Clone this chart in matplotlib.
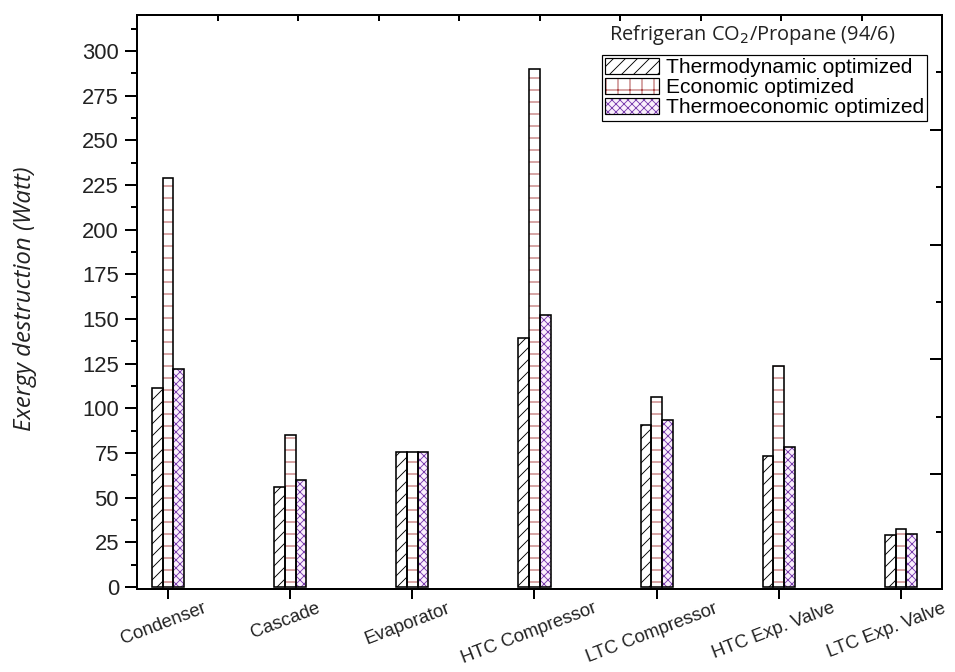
import numpy as np
import matplotlib
matplotlib.use("Agg")
from matplotlib import pyplot as plt
from matplotlib.patches import Patch
from matplotlib.ticker import MultipleLocator, FixedLocator
from matplotlib.transforms import ScaledTranslation, blended_transform_factory

# exergy destruction per component (Watt)
components = ["Condenser", "Cascade", "Evaporator", "HTC Compressor",
              "LTC Compressor", "HTC Exp. Valve", "LTC Exp. Valve"]
thermodynamic = [111.2, 55.8, 75.5, 139.2, 90.6, 73.3, 29.1]
economic = [228.7, 85.1, 75.5, 289.7, 106.5, 123.7, 32.6]
thermoeconomic = [121.8, 59.9, 75.7, 152.2, 93.3, 78.5, 29.5]

seriesNames = ["Thermodynamic optimized", "Economic optimized", "Thermoeconomic optimized"]
yTicks = list(range(0, 301, 25))

plt.rcParams["hatch.linewidth"] = 0.9
tickFont = "Liberation Sans"

# drawn at 72 dpi so hatch spacing comes out ~12 px
fig = plt.figure(figsize=(955 / 72, 672 / 72), dpi=72)
ax = fig.add_axes([137 / 955, 1 - 589 / 672, 805 / 955, 574 / 672])

x = np.arange(len(components))
w = 0.0876
styles = [
    # face, hatch colour, hatch
    ("white", "black", "//"),
    ("white", "#a83a3a", "-"),
    ("#fbf0fc", "#7b3fae", "xxx"),
]
for k, (vals, (face, hcol, hatch)) in enumerate(zip([thermodynamic, economic, thermoeconomic], styles)):
    xs = x + (k - 1) * w
    ax.bar(xs, vals, w, color=face, edgecolor=hcol, hatch=hatch, linewidth=0, zorder=2)
    ax.bar(xs, vals, w, fill=False, edgecolor="black", linewidth=1.6, zorder=3)

ax.set_xlim(-0.254, 6.336)
ax.set_ylim(-1.1, 320.1)

ax.set_yticks(yTicks)
ax.yaxis.set_minor_locator(FixedLocator([v + 12.5 for v in yTicks]))
ax.set_xticks(x)
ax.set_xticklabels([])
for lab in ax.get_yticklabels():
    lab.set_fontfamily(tickFont)
    lab.set_fontsize(22)
    lab.set_color("#222222")

# category names under the ticks, nudged left; the last one sits against the edge
xlabTrans = blended_transform_factory(ax.transData, ax.transAxes)
for i, name in enumerate(components):
    dx = -14 if i == len(components) - 1 else -5
    ax.text(x[i], 0, name, rotation=21, ha="center", va="top", fontsize=18.5,
            fontfamily=tickFont, color="#222222",
            transform=xlabTrans + ScaledTranslation(dx / 72, -11 / 72, fig.dpi_scale_trans))

ax.tick_params(axis="y", which="major", direction="out", length=12, width=2, pad=6)
ax.tick_params(axis="y", which="minor", direction="out", length=6, width=2)
ax.tick_params(axis="x", which="major", direction="out", length=10, width=2, pad=1)
for s in ax.spines.values():
    s.set_linewidth(2)

ax.set_ylabel("Exergy destruction (Watt)", fontsize=24, fontfamily="Open Sans",
              fontstyle="italic", color="#222222")
ax.yaxis.set_label_coords(-0.124, 0.505)

# right and top frame ticks, no labels
axr = ax.twinx()
axr.set_ylim(0, 10)
axr.yaxis.set_major_locator(MultipleLocator(2))
axr.yaxis.set_minor_locator(MultipleLocator(1))
axr.tick_params(axis="y", which="major", direction="in", length=12, width=2, labelright=False)
axr.tick_params(axis="y", which="minor", direction="in", length=6, width=2)

axt = ax.twiny()
axt.set_xlim(0, 10)
axt.set_xticks(range(1, 10))
axt.tick_params(axis="x", direction="in", length=6, width=2, labeltop=False)

handles = []
for face, hcol, hatch in styles:
    lh = "+" if hatch == "-" else hatch
    handles.append((Patch(facecolor=face, edgecolor=hcol, hatch=lh, linewidth=0),
                    Patch(fill=False, edgecolor="black", linewidth=1.2)))
leg = ax.legend(handles, seriesNames, loc="upper right",
                bbox_to_anchor=(927 / 955, 1 - 55 / 672), bbox_transform=fig.transFigure,
                borderaxespad=0, fancybox=False, edgecolor="black", framealpha=1,
                prop={"family": tickFont, "size": 21}, handlelength=2.6, handleheight=0.8,
                handletextpad=0.3, labelspacing=0.03, borderpad=0.15)
leg.get_frame().set_linewidth(1.2)
leg.set_zorder(5)

fig.text(752 / 955, 1 - 35 / 672, "Refrigeran CO$_2$/Propane (94/6)", ha="center", va="center",
         fontsize=20, fontfamily="Open Sans", color="#222222")

fig.savefig("out.png", dpi=72)
